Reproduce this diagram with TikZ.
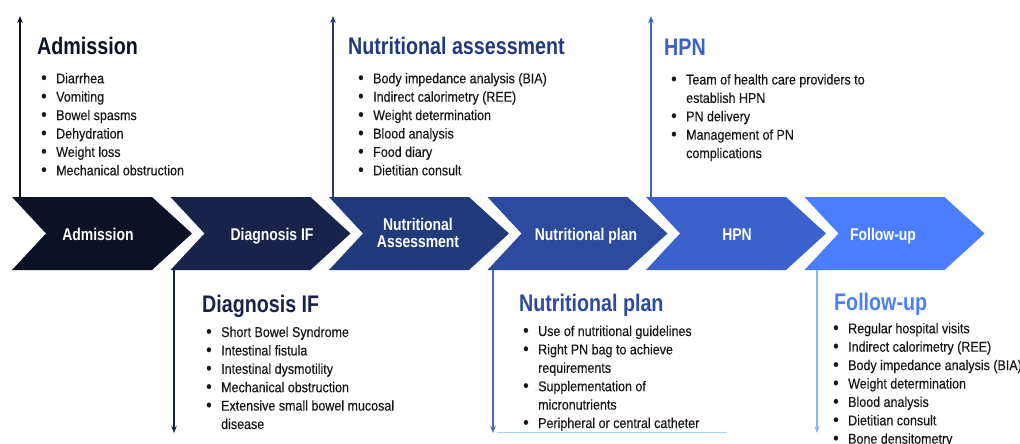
\documentclass[tikz,border=0pt]{standalone}
\usepackage{fontspec}
\setmainfont{Liberation Sans}[FakeStretch=0.88]
\newfontfamily\bodyfont{Liberation Sans}[FakeStretch=0.88, FakeBold=0.3]
\newfontfamily\headfont{Liberation Sans}[FakeStretch=0.82]
\usetikzlibrary{arrows.meta}

\definecolor{cA}{HTML}{0C1126}
\definecolor{cB}{HTML}{17234B}
\definecolor{cC}{HTML}{213A7C}
\definecolor{cD}{HTML}{2D4B9E}
\definecolor{cE}{HTML}{3B62CC}
\definecolor{cF}{HTML}{4A7DFF}
\definecolor{cNParrow}{HTML}{4568D0}
\definecolor{cFUarrow}{HTML}{8AB6F5}
\definecolor{rulelight}{HTML}{A8CFF5}
\definecolor{bodytext}{HTML}{161616}

% bullet item and continuation line of a list
\newcommand\bitem[1]{\makebox[15pt][l]{\raisebox{-0.3pt}{\scalebox{1.25}{\textbullet}}}#1}
\newcommand\bcont[1]{\hspace*{15pt}#1}
% one chevron of the process band: left x, colour
\newcommand\chevron[2]{%
  \fill[#2] (#1,197) -- ++(140,0) -- ++(40,36.5) -- ++(-40,36.5) -- ++(-140,0) -- ++(34,-36.5) -- cycle;}

\tikzset{
  head/.style={anchor=base west, inner sep=0pt, font=\headfont\bfseries\fontsize{24}{28}\selectfont},
  itemlist/.style={anchor=base west, inner sep=0pt, text=bodytext, font=\bodyfont\fontsize{14.2}{18.4}\selectfont},
  chevlabel/.style={text=white, inner sep=0pt, align=center, font=\headfont\bfseries\fontsize{17}{16.5}\selectfont},
  stagearrow/.style={line width=1.4pt, -{Stealth[length=7pt,width=5.5pt]}},
}

\begin{document}
\begin{tikzpicture}[x=1pt,y=-1pt]
\useasboundingbox (0,0) rectangle (1020,444);

% process band
\chevron{12}{cA}
\chevron{170.5}{cB}
\chevron{329}{cC}
\chevron{487.5}{cD}
\chevron{646}{cE}
\chevron{804.5}{cF}

\node[chevlabel, anchor=base] (lblA) at (98,240) {Admission};
\node[chevlabel, anchor=base] (lblB) at (272,240) {Diagnosis IF};
\node[chevlabel] (lblC) at (418,233) {Nutritional\\Assessment};
\node[chevlabel, anchor=base] (lblD) at (586,240) {Nutritional plan};
\node[chevlabel, anchor=base] (lblE) at (737,240) {HPN};
\node[chevlabel, anchor=base] (lblF) at (883,240) {Follow-up};

% arrow roots on the band and their free ends
\coordinate (rootA) at (20,197);    \coordinate (endA) at (20,16);
\coordinate (rootC) at (333,197);   \coordinate (endC) at (333,16);
\coordinate (rootE) at (651,197);   \coordinate (endE) at (651,16);
\coordinate (rootB) at (174,270);   \coordinate (endB) at (174,433);
\coordinate (rootD) at (493,270);   \coordinate (endD) at (493,433);
\coordinate (rootF) at (817,270);   \coordinate (endF) at (817,433);

\draw[stagearrow, cA] (rootA) -- (endA);
\draw[stagearrow, cC] (rootC) -- (endC);
\draw[stagearrow, cE] (rootE) -- (endE);
\draw[stagearrow, cB] (rootB) -- (endB);
\draw[stagearrow, cNParrow] (rootD) -- (endD);
\draw[stagearrow, cFUarrow] (rootF) -- (endF);

% upper panels
\node[head, text=cA] (hA) at (37,55) {Admission};
\node[itemlist] (listA) at (41,83.3) {\parbox[t]{250pt}{\raggedright
  \bitem{Diarrhea}\\ \bitem{Vomiting}\\ \bitem{Bowel spasms}\\
  \bitem{Dehydration}\\ \bitem{Weight loss}\\ \bitem{Mechanical obstruction}}};

\node[head, text=cC] (hC) at (348,55) {Nutritional assessment};
\node[itemlist] (listC) at (358,83.3) {\parbox[t]{250pt}{\raggedright
  \bitem{Body impedance analysis (BIA)}\\ \bitem{Indirect calorimetry (REE)}\\
  \bitem{Weight determination}\\ \bitem{Blood analysis}\\
  \bitem{Food diary}\\ \bitem{Dietitian consult}}};

\node[head, text=cE] (hE) at (664,56) {HPN};
\node[itemlist] (listE) at (671,84.5) {\parbox[t]{250pt}{\raggedright
  \bitem{Team of health care providers to}\\ \bcont{establish HPN}\\
  \bitem{PN delivery}\\ \bitem{Management of PN}\\ \bcont{complications}}};

% lower panels
\node[head, text=cB] (hB) at (202,312) {Diagnosis IF};
\node[itemlist] (listB) at (206,337) {\parbox[t]{250pt}{\raggedright
  \bitem{Short Bowel Syndrome}\\ \bitem{Intestinal fistula}\\
  \bitem{Intestinal dysmotility}\\ \bitem{Mechanical obstruction}\\
  \bitem{Extensive small bowel mucosal}\\ \bcont{disease}}};

\node[head, text=cD] (hD) at (519,311.5) {Nutritional plan};
\node[itemlist] (listD) at (523,336) {\parbox[t]{250pt}{\raggedright
  \bitem{Use of nutritional guidelines}\\ \bitem{Right PN bag to achieve}\\
  \bcont{requirements}\\ \bitem{Supplementation of}\\
  \bcont{micronutrients}\\ \bitem{Peripheral or central catheter}}};
\coordinate (ruleL) at (497,432.5);
\coordinate (ruleR) at (727,432.5);
\draw[rulelight, line width=0.8pt] (ruleL) -- (ruleR);

\node[head, text=cF] (hF) at (834,310) {Follow-up};
\node[itemlist] (listF) at (833,333.3) {\parbox[t]{250pt}{\raggedright
  \bitem{Regular hospital visits}\\ \bitem{Indirect calorimetry (REE)}\\
  \bitem{Body impedance analysis (BIA)}\\ \bitem{Weight determination}\\
  \bitem{Blood analysis}\\ \bitem{Dietitian consult}\\
  \bitem{Bone densitometry}}};
\end{tikzpicture}
\end{document}
